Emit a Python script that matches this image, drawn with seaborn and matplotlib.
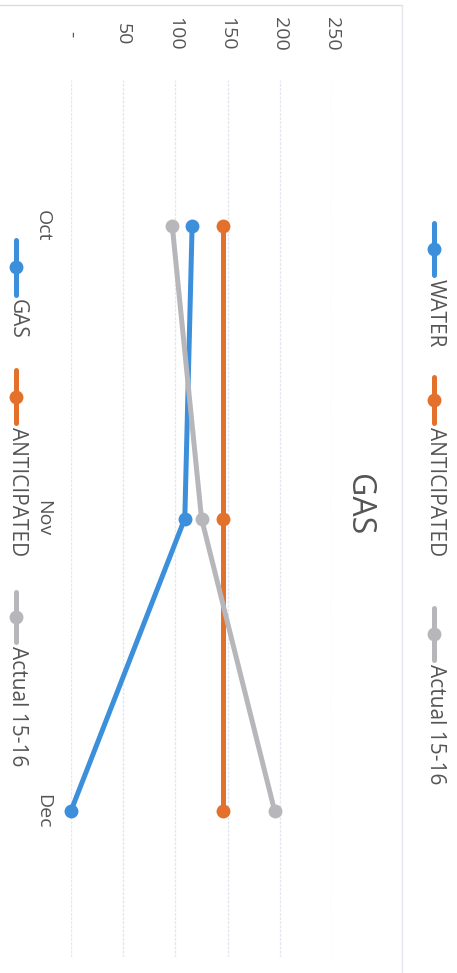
import pandas as pd
import seaborn as sns
import matplotlib.pyplot as plt
from matplotlib.lines import Line2D

# data
months = ['Oct', 'Nov', 'Dec']
gas = [116, 109, 0]
anticipated = [146, 146, 146]
actual_15_16 = [97, 125, 195]
value_ticks = [0, 50, 100, 150, 200, 250]
value_labels = ['-', '50', '100', '150', '200', '250']

colors = {'GAS': '#3b8fdb', 'ANTICIPATED': '#e3712b', 'Actual 15-16': '#b7b7bb'}
text_col = '#555555'

rows = []
for name, vals in [('GAS', gas), ('ANTICIPATED', anticipated), ('Actual 15-16', actual_15_16)]:
    for i, v in enumerate(vals):
        rows.append({'series': name, 'pos': i, 'value': v})
df = pd.DataFrame(rows)

sns.set_style('white')
plt.rcParams['font.family'] = ['Open Sans', 'DejaVu Sans']

W, H = 457, 973
fig = plt.figure(figsize=(W / 100, H / 100), dpi=100)


def fx(x):
    return x / W


def fy(y):
    return 1 - y / H


# chart is drawn rotated: values run left->right, months top->bottom
ax = fig.add_axes([fx(71), fy(957), (332 - 71) / W, (957 - 80) / H])
sns.lineplot(data=df, x='value', y='pos', hue='series', palette=colors,
             orient='y', sort=False, marker='o', markersize=10,
             markeredgewidth=0, linewidth=3.6, legend=False, ax=ax)
for ln in ax.lines:
    ln.set_clip_on(False)

ax.set_xlim(0, 250)
ax.set_ylim(2.5, -0.5)
ax.set_xlabel('')
ax.set_ylabel('')
for s in ax.spines.values():
    s.set_visible(False)

ax.xaxis.tick_top()
ax.set_xticks(value_ticks)
ax.set_xticklabels(value_labels)
ax.set_yticks(range(len(months)))
ax.set_yticklabels(months)
ax.tick_params(axis='x', length=0, pad=33, labelsize=14, labelcolor=text_col)
ax.tick_params(axis='y', length=0, pad=20, labelsize=14, labelcolor=text_col)
for lab in ax.get_xticklabels():
    lab.set_rotation(-90)
    lab.set_va('center')
    lab.set_ha('center')
for lab in ax.get_yticklabels():
    lab.set_rotation(-90)
    lab.set_ha('center')
    lab.set_va('center')
ax.grid(axis='x', color='#e3e6ee', linewidth=1, linestyle=(0, (2, 1)))
ax.grid(axis='y', visible=False)

# title
fig.text(fx(358), fy(505), 'GAS', rotation=-90, ha='center', va='center',
         fontsize=23, color=text_col)


def legend_entry(x, y0, y1, label, color):
    fig.add_artist(Line2D([fx(x), fx(x)], [fy(y0), fy(y1)], color=color,
                          linewidth=3.6, transform=fig.transFigure))
    fig.add_artist(Line2D([fx(x)], [fy((y0 + y1) / 2)], color=color, marker='o',
                          markersize=10, markeredgewidth=0,
                          transform=fig.transFigure))
    fig.text(fx(x + 1), fy(y1 + 4), label, rotation=-90, ha='center', va='top',
             fontsize=15, color=text_col)


# upper legend (right side of the rotated picture)
legend_entry(434, 223, 275, 'WATER', colors['GAS'])
legend_entry(434, 377, 423, 'ANTICIPATED', colors['ANTICIPATED'])
legend_entry(434, 608, 660, 'Actual 15-16', colors['Actual 15-16'])

# lower legend (left side)
legend_entry(16, 240, 295, 'GAS', colors['GAS'])
legend_entry(16, 370, 423, 'ANTICIPATED', colors['ANTICIPATED'])
legend_entry(16, 592, 642, 'Actual 15-16', colors['Actual 15-16'])

# faint chart border
fig.add_artist(Line2D([0, fx(402)], [fy(5), fy(5)], color='#dcdde3',
                      linewidth=1, transform=fig.transFigure))
fig.add_artist(Line2D([fx(402), fx(402)], [fy(5), fy(973)], color='#e6e7ec',
                      linewidth=1, transform=fig.transFigure))

fig.savefig('out.png', dpi=100, facecolor='white')
